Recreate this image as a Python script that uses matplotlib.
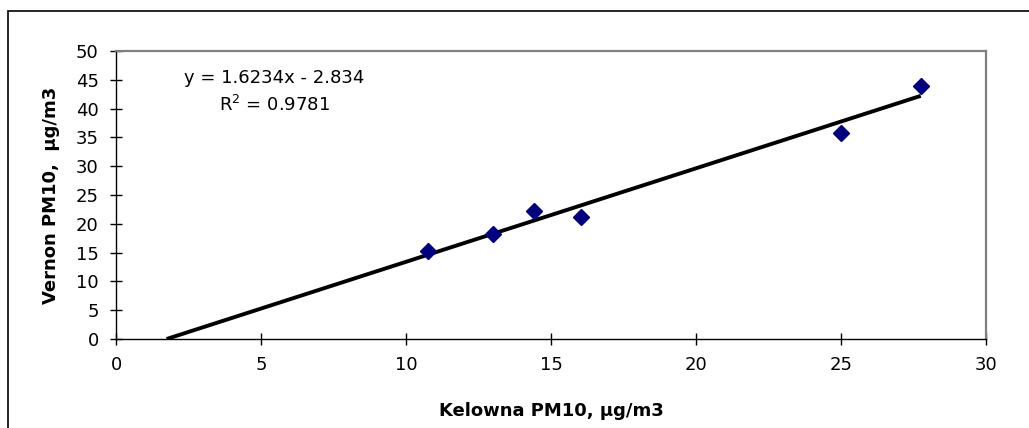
import matplotlib.pyplot as plt
from matplotlib.patches import Rectangle

# Kelowna vs Vernon PM10
kelowna = [10.75, 13.0, 14.4, 16.05, 25.0, 27.75]
vernon = [15.3, 18.3, 22.2, 21.1, 35.8, 44.0]

# trendline as printed on the chart
slope = 1.6234
intercept = -2.834
r2 = 0.9781

plt.rcParams['font.family'] = ['DejaVu Sans']
fs = 13

fig = plt.figure(figsize=(10.29, 4.28), dpi=100)
ax = fig.add_axes([116 / 1029, 89 / 428, 870 / 1029, 288 / 428])

# outer chart border (cut off at right/bottom like the reference)
fig.patches.append(Rectangle((8 / 1029, -0.1), 1.2, (428 - 11) / 428 + 0.1,
                             transform=fig.transFigure, fill=False,
                             edgecolor='black', linewidth=1.2))

x0 = -intercept / slope
x1 = max(kelowna)
ax.plot([x0, x1], [slope * x0 + intercept, slope * x1 + intercept],
        color='black', linewidth=2.8, solid_capstyle='butt', zorder=2)
ax.plot(kelowna, vernon, linestyle='none', marker='D', markersize=8,
        color='#000080', zorder=3)

ax.set_xlim(0, 30)
ax.set_ylim(0, 50)
ax.set_xticks(range(0, 31, 5))
ax.set_yticks(range(0, 51, 5))
ax.tick_params(direction='inout', length=9, width=1, labelsize=fs)
ax.tick_params(axis='y', pad=8)
ax.tick_params(axis='x', pad=8)

for s in ['top', 'right']:
    ax.spines[s].set_color('#808080')
    ax.spines[s].set_linewidth(1.6)
for s in ['left', 'bottom']:
    ax.spines[s].set_color('black')
    ax.spines[s].set_linewidth(1.0)

ax.set_xlabel('Kelowna PM10, μg/m3', fontsize=fs, fontweight='bold', labelpad=20)
ax.set_ylabel('Vernon PM10,  μg/m3', fontsize=fs, fontweight='bold', labelpad=11)

ax.text(5.45, 45.3, f'y = {slope}x - {-intercept}', ha='center', va='center', fontsize=fs)
ax.text(5.45, 40.6, f'R$^2$ = {r2}', ha='center', va='center', fontsize=fs)

fig.savefig('out.png', dpi=100)
